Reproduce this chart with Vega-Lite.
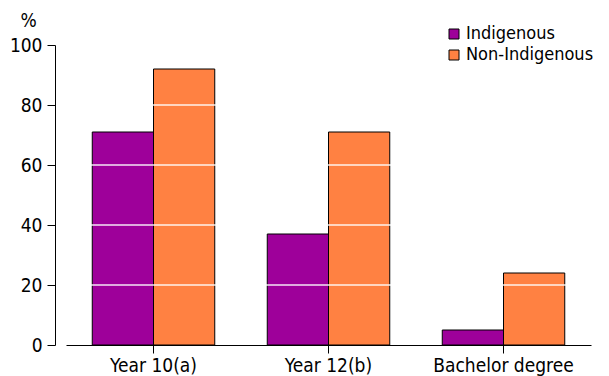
{
  "$schema": "https://vega.github.io/schema/vega-lite/v6.json",
  "autosize": "none",
  "width": 525,
  "height": 300,
  "padding": {"left": 66, "top": 45, "right": 18, "bottom": 31},
  "background": "white",
  "config": {
    "view": {"stroke": null},
    "font": "DejaVu Sans Condensed"
  },
  "layer": [
    {
      "data": {
        "values": [
          {"level": "Year 10(a)", "group": "Indigenous", "pct": 71},
          {"level": "Year 10(a)", "group": "Non-Indigenous", "pct": 92},
          {"level": "Year 12(b)", "group": "Indigenous", "pct": 37},
          {"level": "Year 12(b)", "group": "Non-Indigenous", "pct": 71},
          {"level": "Bachelor degree", "group": "Indigenous", "pct": 5},
          {"level": "Bachelor degree", "group": "Non-Indigenous", "pct": 24}
        ]
      },
      "mark": {"type": "bar", "stroke": "black", "strokeWidth": 1},
      "encoding": {
        "x": {
          "field": "level",
          "type": "nominal",
          "sort": ["Year 10(a)", "Year 12(b)", "Bachelor degree"],
          "scale": {"paddingInner": 0.3, "paddingOuter": 0.15},
          "axis": {
            "title": null,
            "labelAngle": 0,
            "labelFont": "DejaVu Sans Condensed",
            "labelFontSize": 19,
            "labelColor": "#000",
            "labelPadding": 3,
            "tickSize": 8,
            "tickColor": "black",
            "domainColor": "black",
            "domainWidth": 1
          }
        },
        "xOffset": {
          "field": "group",
          "type": "nominal",
          "scale": {"paddingInner": 0, "paddingOuter": 0}
        },
        "y": {
          "field": "pct",
          "type": "quantitative",
          "scale": {"domain": [0, 100], "nice": false},
          "axis": {
            "values": [0, 20, 40, 60, 80, 100],
            "grid": false,
            "offset": 11,
            "tickSize": 8,
            "tickColor": "black",
            "domainColor": "black",
            "labelFont": "DejaVu Sans Condensed",
            "labelFontSize": 19,
            "labelColor": "#000",
            "labelPadding": 5,
            "title": "%",
            "titleAngle": 0,
            "titleFont": "DejaVu Sans Condensed",
            "titleFontSize": 19,
            "titleFontWeight": "normal",
            "titleColor": "#000",
            "titleAlign": "center",
            "titleBaseline": "alphabetic",
            "titleX": -27,
            "titleY": -19
          }
        },
        "color": {
          "field": "group",
          "type": "nominal",
          "scale": {"domain": ["Indigenous", "Non-Indigenous"], "range": ["#9e009a", "#ff8142"]},
          "legend": {
            "title": null,
            "orient": "none",
            "legendX": 379,
            "legendY": -20,
            "padding": 0,
            "symbolType": "square",
            "symbolSize": 100,
            "symbolStrokeColor": "black",
            "symbolStrokeWidth": 1,
            "symbolOpacity": 1,
            "labelFont": "DejaVu Sans Condensed",
            "labelFontSize": 18,
            "labelColor": "#000",
            "labelOffset": 3,
            "rowPadding": 3
          }
        }
      }
    },
    {
      "data": {"values": [{"g": 20}, {"g": 40}, {"g": 60}, {"g": 80}]},
      "mark": {"type": "rule", "color": "white", "strokeWidth": 1.5, "opacity": 0.9},
      "encoding": {
        "y": {"field": "g", "type": "quantitative"}
      }
    }
  ]
}
